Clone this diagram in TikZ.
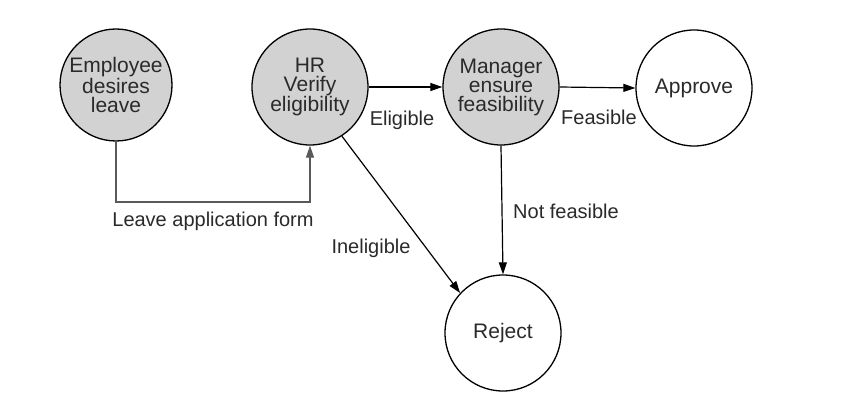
\documentclass[tikz,border=0pt]{standalone}
\usepackage{fontspec}
\setmainfont{Liberation Sans}
\usetikzlibrary{arrows.meta}
\definecolor{txt}{HTML}{2A2A2A}
\definecolor{fillg}{HTML}{D2D2D2}
\begin{document}
\begin{tikzpicture}[x=1pt,y=-1pt,
  state/.style={circle,draw=black,line width=1.3pt,minimum size=116pt,inner sep=0pt,
    align=center,text=txt,font=\fontsize{21}{19}\selectfont},
  active/.style={state,fill=fillg},
  conn/.style={line width=1.2pt,draw=black,-{Triangle[length=12pt,width=8pt]}},
  lbl/.style={text=txt,font=\fontsize{20}{20}\selectfont,inner sep=0pt}]
\fill[white] (0,0) rectangle (852,420);
\useasboundingbox (0,0) rectangle (852,420);
\node[active,minimum size=112pt] (emp) at (116,85) {Employee\\desires\\leave};
\node[active] (hr) at (310,87) {HR\\Verify\\eligibility};
\node[active] (mgr) at (501,87) {Manager\\ensure\\feasibility};
\node[state] (app) at (694,88) {Approve};
\node[state] (rej) at (503,333) {Reject};
\coordinate (bend) at (310,202);
\draw[conn,draw=black!65] (emp.south) |- (bend) -- (hr.south);
\draw[conn] (hr.east) -- (mgr.west);
\draw[conn] (mgr.east) -- (app.west);
\draw[conn] (mgr.south) -- (rej.north);
\draw[conn] (hr.-57) -- (rej.137);
\node[lbl] (l1) at (213,221) {Leave application form};
\node[lbl] (l2) at (402,120) {Eligible};
\node[lbl] (l3) at (599,117) {Feasible};
\node[lbl,anchor=west] (l4) at (513,211) {Not feasible};
\node[lbl] (l5) at (371,248) {Ineligible};
\end{tikzpicture}
\end{document}
